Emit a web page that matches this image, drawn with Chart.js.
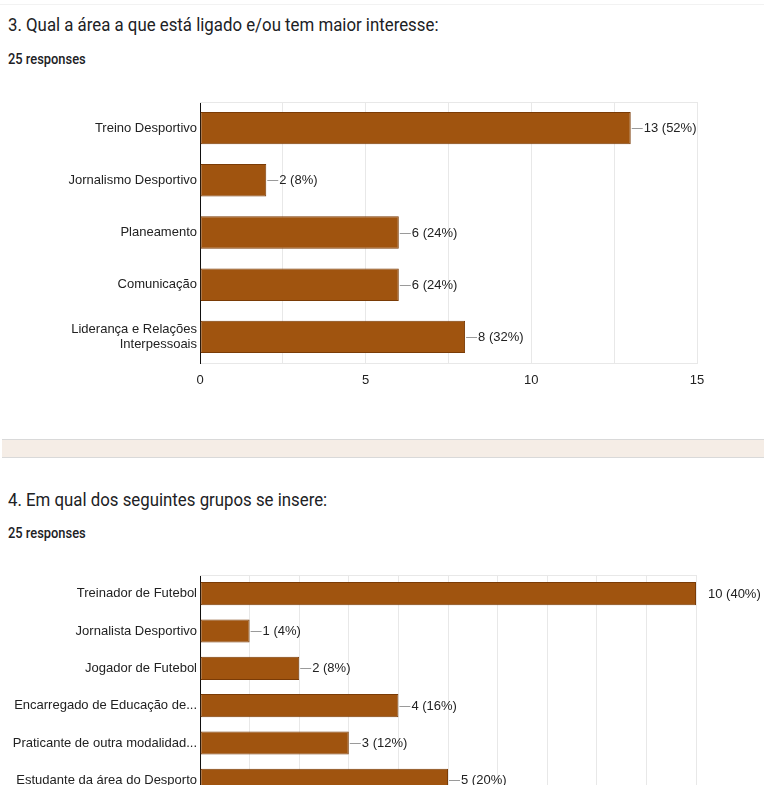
<!DOCTYPE html>
<html>
<head>
<meta charset="utf-8">
<script src="https://cdn.jsdelivr.net/npm/chart.js@4/dist/chart.umd.min.js"></script>
<style>
  html, body { margin:0; padding:0; background:#fff; overflow:hidden; }
  body { width:764px; height:785px; position:relative; }
  .topline { position:absolute; left:0; top:4px; width:764px; height:1px; background:#f2f2f2; }
  .title { position:absolute; left:8px; font-family:Roboto, "Liberation Sans", sans-serif; font-size:19px; color:#202124; white-space:nowrap; transform-origin:left center; transform:scaleX(0.885); }
  .resp { position:absolute; left:8px; font-family:Roboto, "Liberation Sans", sans-serif; font-weight:500; font-size:14px; color:#202124; white-space:nowrap; transform-origin:left center; transform:scaleX(0.92); }
  .band { position:absolute; left:2px; top:439px; width:762px; height:19px; box-sizing:border-box; background:#f5ede6; border-top:1px solid #d9d9d9; border-bottom:1px solid #d9d9d9; }
  .box { position:absolute; left:0; width:764px; }
</style>
</head>
<body>
<div class="topline"></div>
<div class="title" style="top:13px;">3. Qual a área a que está ligado e/ou tem maior interesse:</div>
<div class="resp" style="top:51px;">25 responses</div>
<div class="box" style="top:90px;height:310px;"><canvas id="c1"></canvas></div>
<div class="band"></div>
<div class="title" style="top:488px;">4. Em qual dos seguintes grupos se insere:</div>
<div class="resp" style="top:525px;">25 responses</div>
<div class="box" style="top:560px;height:276px;"><canvas id="c2"></canvas></div>
<script>
// ---- Data ----
const areaLabels = ['Treino Desportivo', 'Jornalismo Desportivo', 'Planeamento', 'Comunicação', ['Liderança e Relações', 'Interpessoais']];
const areaCounts = [13, 2, 6, 6, 8];
const areaPercents = [52, 8, 24, 24, 32];
const areaTicks = [0, 5, 10, 15];

const groupLabels = ['Treinador de Futebol', 'Jornalista Desportivo', 'Jogador de Futebol', 'Encarregado de Educação de...', 'Praticante de outra modalidad...', 'Estudante da área do Desporto'];
const groupCounts = [10, 1, 2, 4, 3, 5];
const groupPercents = [40, 4, 8, 16, 12, 20];

const FONT = '"Liberation Sans", Arial, sans-serif';

const valueLabels = {
  id: 'valueLabels',
  afterDatasetsDraw(chart, args, opts) {
    const { ctx, chartArea } = chart;
    const meta = chart.getDatasetMeta(0);
    const ds = chart.data.datasets[0];
    ctx.save();
    ctx.font = '13px ' + FONT;
    ctx.textBaseline = 'middle';
    meta.data.forEach((bar, i) => {
      const txt = ds.data[i] + ' (' + opts.percents[i] + '%)';
      const x = bar.x, y = Math.round(bar.y);
      ctx.fillStyle = '#222';
      if (x >= chartArea.right - 1) {
        ctx.fillText(txt, chartArea.right + 12, y);
      } else {
        ctx.strokeStyle = '#9a9a9a';
        ctx.lineWidth = 1;
        ctx.beginPath();
        ctx.moveTo(x + 1, y + 0.5);
        ctx.lineTo(x + 12, y + 0.5);
        ctx.stroke();
        ctx.fillText(txt, x + 13, y);
      }
    });
    ctx.restore();
  }
};

const frame = {
  id: 'frame',
  beforeDatasetsDraw(chart) {
    const { ctx, chartArea: a } = chart;
    ctx.save();
    ctx.strokeStyle = '#e8e8e8';
    ctx.lineWidth = 1;
    ctx.beginPath();
    ctx.moveTo(a.left, a.top + 0.5);
    ctx.lineTo(a.right, a.top + 0.5);
    ctx.stroke();
    ctx.restore();
  }
};

function makeChart(id, labels, counts, percents, xmax, step, tickFilter, padTop, padRight) {
  return new Chart(document.getElementById(id), {
    type: 'bar',
    data: {
      labels: labels,
      datasets: [{
        data: counts,
        backgroundColor: '#a0540f',
        borderColor: '#7a3b06',
        borderWidth: 1,
        borderSkipped: false,
        categoryPercentage: 1,
        barPercentage: 0.62
      }]
    },
    options: {
      indexAxis: 'y',
      responsive: true,
      maintainAspectRatio: false,
      animation: false,
      layout: { padding: { top: padTop, right: padRight, left: 0, bottom: 0 } },
      plugins: {
        legend: { display: false },
        tooltip: { enabled: false },
        valueLabels: { percents: percents }
      },
      scales: {
        x: {
          min: 0, max: xmax,
          afterFit(scale) { scale.height = 37; scale.paddingLeft = 0; scale.paddingRight = 0; },
          ticks: {
            stepSize: step, autoSkip: false, padding: 10, color: '#222', maxRotation: 0,
            font: { family: FONT, size: 13 },
            callback: tickFilter
          },
          grid: { color: '#e8e8e8', drawTicks: false },
          border: { color: '#e8e8e8', width: 1 }
        },
        y: {
          afterFit(scale) { scale.width = 200; scale.paddingTop = 0; scale.paddingBottom = 0; },
          ticks: { padding: 3, color: '#222', font: { family: FONT, size: 13 }, autoSkip: false },
          grid: { display: false, drawTicks: false },
          border: { color: '#111', width: 1 }
        }
      }
    },
    plugins: [frame, valueLabels]
  });
}

makeChart('c1', areaLabels, areaCounts, areaPercents, 15, 2.5,
  v => areaTicks.includes(v) ? String(v) : '', 12, 67);
makeChart('c2', groupLabels, groupCounts, groupPercents, 10, 1,
  v => (v % 2 === 0 ? String(v) : ''), 15, 68);
</script>
</body>
</html>
